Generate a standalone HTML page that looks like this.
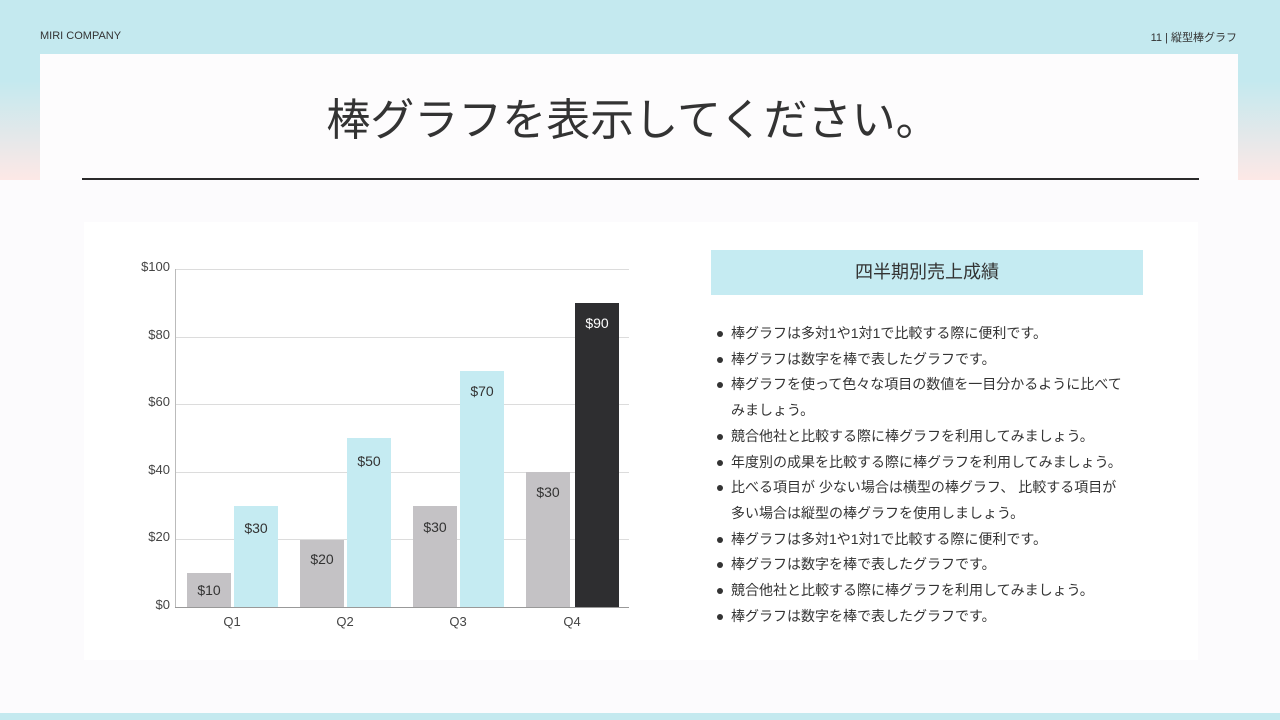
<!DOCTYPE html>
<html><head><meta charset="utf-8"><style>
*{margin:0;padding:0;box-sizing:border-box}
body{width:1280px;height:720px;position:relative;overflow:hidden;background:#fcfbfd;font-family:"Liberation Sans","Noto Sans CJK JP",sans-serif;color:#333}
.bg{position:absolute;left:0;top:0;width:1280px;height:180px;background:linear-gradient(#c4e9ef 0%,#c4e9ef 45%,#fde8e6 100%)}
.hdr{position:absolute;top:29px;font-size:11px;color:#333}
.tcard{position:absolute;left:40px;top:54px;width:1198px;height:126px;background:#fdfcfd}
.title{position:absolute;left:0;top:84px;width:1266px;text-align:center;font-size:44px;color:#333}
.rule{position:absolute;left:82px;top:178px;width:1117px;height:2px;background:#2a2a2a}
.card{position:absolute;left:84px;top:222px;width:1114px;height:438px;background:#fff}
.box{position:absolute;left:711px;top:250px;width:432px;height:45px;background:#c5ebf2;text-align:center;line-height:45px;font-size:18px;color:#333}
ul{position:absolute;left:731px;top:321px;width:406px;font-size:14px;line-height:25.7px;color:#333;list-style:none}
li{position:relative}
li:before{content:"";position:absolute;left:-14px;top:10px;width:6px;height:6px;border-radius:50%;background:#333}
.bot{position:absolute;left:0;top:713px;width:1280px;height:7px;background:#c4e9ef}
</style></head><body>
<div class="bg"></div>
<div class="hdr" style="left:40px;top:30px">MIRI COMPANY</div>
<div class="hdr" style="right:43px">11 | 縦型棒グラフ</div>
<div class="tcard"></div>
<div class="title">棒グラフを表示してください。</div>
<div class="rule"></div>
<div class="card"></div>
<svg style="position:absolute;left:0;top:0" width="1280" height="720" font-family="Liberation Sans, sans-serif" font-size="13">
<g stroke="#dcdcdc" stroke-width="1">
<line x1="175" y1="269.5" x2="629" y2="269.5"/><line x1="175" y1="337.5" x2="629" y2="337.5"/><line x1="175" y1="404.5" x2="629" y2="404.5"/><line x1="175" y1="472.5" x2="629" y2="472.5"/><line x1="175" y1="539.5" x2="629" y2="539.5"/>
</g>
<line x1="175.5" y1="269" x2="175.5" y2="607" stroke="#bbb"/>
<line x1="175" y1="607.5" x2="629" y2="607.5" stroke="#999"/>
<g fill="#444" text-anchor="end">
<text x="170" y="271">$100</text><text x="170" y="339">$80</text><text x="170" y="406">$60</text><text x="170" y="474">$40</text><text x="170" y="541">$20</text><text x="170" y="609">$0</text>
</g>
<g fill="#c4c2c5"><rect x="187" y="573" width="44" height="34"/><rect x="300" y="540" width="44" height="67"/><rect x="413" y="506" width="44" height="101"/><rect x="526" y="472" width="44" height="135"/></g>
<g fill="#c5ebf2"><rect x="234" y="506" width="44" height="101"/><rect x="347" y="438" width="44" height="169"/><rect x="460" y="371" width="44" height="236"/></g>
<rect x="575" y="303" width="44" height="304" fill="#2e2e30"/>
<g fill="#333" text-anchor="middle" font-size="14">
<text x="209" y="595">$10</text><text x="256" y="533">$30</text><text x="322" y="564">$20</text><text x="369" y="466">$50</text><text x="435" y="532">$30</text><text x="482" y="396">$70</text><text x="548" y="497">$30</text><text x="597" y="328" fill="#fff">$90</text>
</g>
<g fill="#444" text-anchor="middle"><text x="232" y="626">Q1</text><text x="345" y="626">Q2</text><text x="458" y="626">Q3</text><text x="572" y="626">Q4</text></g>
</svg>
<div class="box">四半期別売上成績</div>
<ul>
<li>棒グラフは多対1や1対1で比較する際に便利です。</li>
<li>棒グラフは数字を棒で表したグラフです。</li>
<li>棒グラフを使って色々な項目の数値を一目分かるように比べて<br>みましょう。</li>
<li>競合他社と比較する際に棒グラフを利用してみましょう。</li>
<li>年度別の成果を比較する際に棒グラフを利用してみましょう。</li>
<li>比べる項目が 少ない場合は横型の棒グラフ、 比較する項目が<br>多い場合は縦型の棒グラフを使用しましょう。</li>
<li>棒グラフは多対1や1対1で比較する際に便利です。</li>
<li>棒グラフは数字を棒で表したグラフです。</li>
<li>競合他社と比較する際に棒グラフを利用してみましょう。</li>
<li>棒グラフは数字を棒で表したグラフです。</li>
</ul>
<div class="bot"></div>
</body></html>
